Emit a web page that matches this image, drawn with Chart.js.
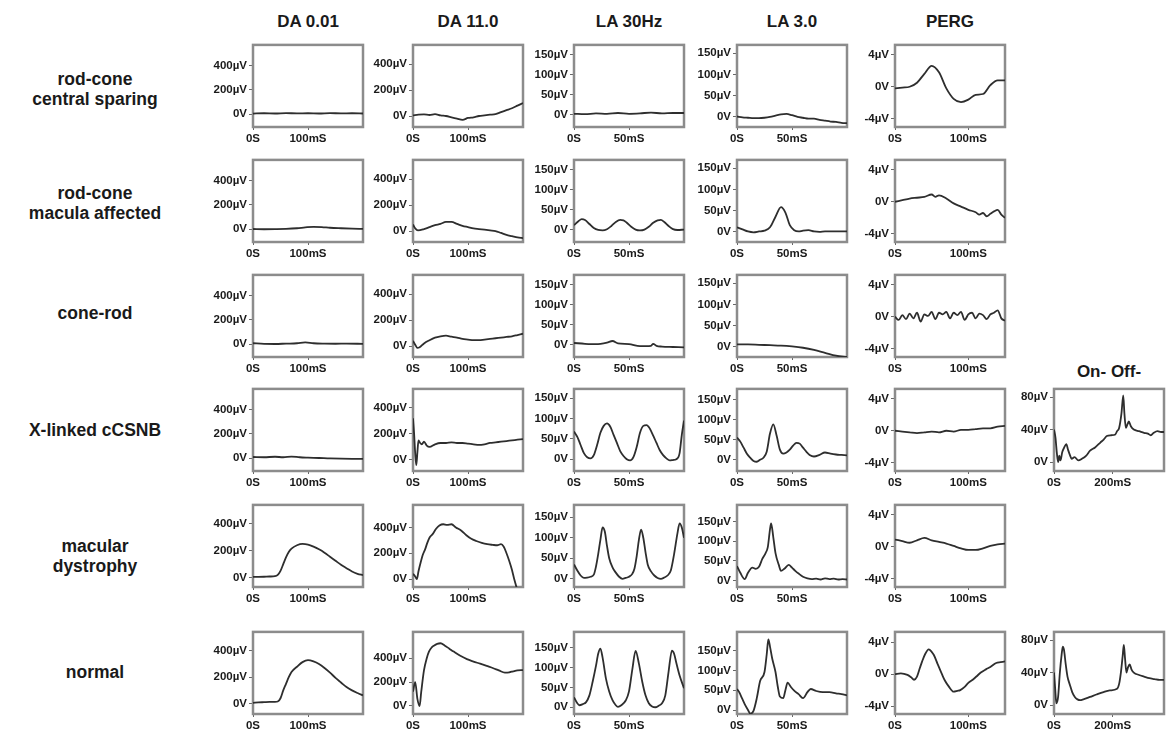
<!DOCTYPE html>
<html><head><meta charset="utf-8">
<script src="https://cdn.jsdelivr.net/npm/chart.js@4/dist/chart.umd.min.js"></script>
<style>
html,body{margin:0;padding:0;background:#fff;}
#wrap{position:relative;width:1166px;height:736px;overflow:hidden;font-family:"Liberation Sans",Arial,sans-serif;color:#1a1a1a;}
.lbl{position:absolute;font-weight:bold;text-align:center;white-space:nowrap;line-height:20px;}
canvas{position:absolute;}
</style></head>
<body><div id="wrap"></div>
<script>
// ---------- labels ----------
const columnTitles = ["DA 0.01", "DA 11.0", "LA 30Hz", "LA 3.0", "PERG", "On- Off-"];
const rowLabels = [["rod-cone","central sparing"],["rod-cone","macula affected"],["cone-rod"],["X-linked cCSNB"],["macular","dystrophy"],["normal"]];

// ---------- tick values / labels ----------
const daYTicks = [0, 200, 400];       const daYLabels = ["0V", "200µV", "400µV"];
const laYTicks = [0, 50, 100, 150];   const laYLabels = ["0V", "50µV", "100µV", "150µV"];
const pergYTicks = [-4, 0, 4];        const pergYLabels = ["-4µV", "0V", "4µV"];
const onoffYTicks = [0, 40, 80];      const onoffYLabels = ["0V", "40µV", "80µV"];
const daXTicks = [0, 100];    const daXLabels = ["0S", "100mS"];
const laXTicks = [0, 50];     const laXLabels = ["0S", "50mS"];
const pergXTicks = [0, 100];  const pergXLabels = ["0S", "100mS"];
const onoffXTicks = [0, 200]; const onoffXLabels = ["0S", "200mS"];

// ---------- traces: [time ms, value] ----------
// DA 0.01 (µV)
const da001_centralSparing = [[0,5],[20,8],[40,6],[60,9],[80,7],[100,8],[120,6],[140,9],[160,7],[180,8],[200,6]];
const da001_maculaAffected = [[0,2],[20,0],[40,1],[60,3],[80,8],[95,15],[110,20],[125,18],[140,12],[160,8],[180,5],[200,3]];
const da001_coneRod = [[0,8],[20,3],[40,2],[60,5],[80,8],[95,15],[110,8],[130,5],[150,4],[170,5],[200,3]];
const da001_xlCSNB = [[0,10],[20,8],[40,12],[55,8],[70,14],[85,8],[100,5],[120,2],[140,-2],[160,-4],[180,-5],[200,-5]];
const da001_macularDystrophy = [[0,5],[10,5],[20,6],[30,8],[40,10],[45,20],[50,50],[55,100],[60,150],[65,190],[70,215],[80,240],[90,250],[100,245],[110,230],[120,210],[130,185],[140,155],[150,125],[160,95],[170,70],[180,45],[190,28],[200,18]];
const da001_normal = [[0,5],[10,8],[20,10],[30,12],[40,12],[45,15],[50,40],[55,100],[60,150],[65,200],[70,240],[80,280],[90,315],[100,330],[110,320],[120,300],[130,270],[140,235],[150,195],[160,160],[170,125],[180,100],[190,80],[200,62]];
// DA 11.0 (µV)
const da11_centralSparing = [[0,5],[10,10],[20,12],[30,8],[40,15],[50,5],[60,0],[70,-10],[80,-20],[90,-30],[100,-15],[110,-10],[120,0],[130,5],[140,10],[150,15],[160,30],[170,45],[180,60],[190,80],[200,100]];
const da11_maculaAffected = [[0,50],[4,20],[9,5],[20,15],[30,30],[40,45],[50,55],[60,70],[70,70],[80,55],[90,40],[100,30],[110,20],[120,15],[130,10],[140,5],[150,0],[160,-15],[170,-30],[180,-40],[190,-50],[200,-55]];
const da11_coneRod = [[0,40],[4,10],[8,-15],[12,-10],[20,20],[30,45],[40,65],[50,75],[60,80],[70,72],[80,65],[90,55],[100,50],[110,45],[120,45],[130,50],[140,55],[150,60],[160,65],[170,70],[180,75],[190,85],[200,95]];
const da11_xlCSNB = [[0,320],[2,200],[4,50],[6,-40],[8,60],[10,150],[13,130],[16,120],[20,140],[25,110],[30,100],[40,120],[50,130],[60,130],[70,135],[80,130],[90,130],[100,125],[110,120],[120,115],[130,120],[140,130],[150,135],[160,140],[170,145],[180,150],[190,155],[200,160]];
const da11_macularDystrophy = [[0,40],[4,20],[7,0],[10,60],[14,130],[18,190],[22,230],[26,280],[30,320],[36,350],[42,390],[48,415],[55,425],[62,420],[70,425],[78,400],[88,375],[97,340],[106,312],[115,295],[125,280],[135,270],[145,265],[153,262],[160,270],[165,250],[170,200],[175,140],[180,70],[184,0],[190,-90]];
const da11_normal = [[0,120],[4,200],[8,60],[12,0],[15,120],[20,300],[25,400],[29,455],[34,490],[38,505],[44,520],[50,525],[58,505],[66,480],[74,455],[86,420],[98,392],[110,372],[122,354],[134,335],[146,316],[156,298],[167,280],[175,282],[182,290],[190,298],[200,300]];
// LA 30Hz (µV)
const la30_centralSparing = [[0,3],[10,2],[20,4],[30,3],[40,5],[50,3],[60,4],[70,6],[80,4],[90,5],[100,5]];
const la30_maculaAffected = [[0,12],[4,22],[7,27],[10,25],[14,15],[18,5],[22,0],[26,-1],[30,2],[34,10],[38,20],[42,25],[45,24],[48,18],[52,8],[56,1],[60,-1],[64,1],[68,8],[72,18],[76,24],[79,25],[82,20],[86,10],[90,2],[94,0],[100,1]];
const la30_coneRod = [[0,5],[10,3],[20,2],[30,6],[35,10],[40,4],[50,2],[60,-3],[70,-2],[72,3],[75,-2],[80,-4],[90,-5],[100,-6]];
const la30_xlCSNB = [[0,68],[3,55],[6,35],[9,15],[12,5],[15,2],[18,10],[21,35],[24,65],[27,82],[30,88],[33,80],[36,60],[39,40],[42,20],[45,8],[48,0],[51,-3],[54,5],[57,30],[60,65],[63,82],[66,84],[69,75],[72,58],[75,40],[78,22],[81,10],[84,2],[87,-3],[90,-2],[93,0],[96,15],[98,60],[100,95]];
const la30_macularDystrophy = [[0,35],[3,20],[6,8],[9,2],[12,3],[15,5],[18,10],[20,30],[22,60],[24,95],[26,125],[28,115],[30,80],[32,50],[35,28],[38,15],[41,5],[44,0],[47,2],[50,5],[53,12],[55,25],[57,55],[59,95],[61,120],[63,100],[65,65],[67,35],[70,18],[73,8],[76,2],[79,0],[82,3],[85,8],[88,20],[91,60],[94,110],[96,135],[98,125],[100,100]];
const la30_normal = [[0,25],[3,10],[5,5],[8,8],[11,13],[14,30],[17,65],[20,105],[22,135],[24,148],[26,125],[29,73],[32,40],[35,18],[38,5],[40,1],[43,5],[47,17],[50,40],[53,95],[56,142],[59,110],[62,65],[65,30],[68,10],[71,2],[74,0],[77,4],[80,10],[83,30],[86,90],[89,143],[91,135],[93,112],[96,80],[100,48]];
// LA 3.0 (µV)
const la3_centralSparing = [[0,0],[5,-2],[10,-3],[15,-4],[20,-4],[25,-3],[30,-1],[35,2],[40,5],[45,6],[50,3],[55,-1],[60,-3],[65,-5],[70,-5],[75,-8],[80,-10],[85,-12],[90,-13],[95,-15],[100,-16]];
const la3_maculaAffected = [[0,10],[5,5],[10,0],[15,-2],[20,0],[25,2],[30,10],[35,35],[40,58],[44,45],[48,15],[52,3],[56,0],[60,2],[65,3],[70,0],[75,-1],[80,0],[90,0],[100,0]];
const la3_coneRod = [[0,5],[10,5],[20,4],[30,3],[40,2],[50,0],[60,-3],[70,-8],[80,-15],[90,-22],[100,-25]];
const la3_xlCSNB = [[0,55],[3,45],[6,30],[9,15],[12,5],[15,-3],[18,-5],[21,0],[24,5],[27,20],[30,65],[33,88],[36,60],[39,25],[42,15],[45,18],[48,25],[51,35],[54,42],[57,40],[60,30],[63,20],[66,12],[70,8],[75,12],[80,18],[85,15],[90,13],[95,12],[100,11]];
const la3_macularDystrophy = [[0,37],[3,20],[7,4],[10,20],[14,33],[17,30],[20,35],[23,55],[26,70],[28,85],[30,130],[31,145],[33,110],[35,70],[38,40],[40,25],[43,30],[47,40],[50,33],[53,25],[56,18],[60,10],[64,6],[68,4],[72,5],[76,3],[80,6],[84,4],[88,5],[92,3],[96,4],[100,3]];
const la3_normal = [[0,53],[2,45],[4.5,30],[7,15],[10,0],[12,-9],[15,-2],[18,30],[21,73],[25,96],[27,140],[28.5,178],[30,160],[32,130],[35,96],[37,60],[39,34],[42,30],[44,50],[46,69],[49,58],[52,49],[56,40],[60,30],[64,45],[67,53],[72,48],[78,45],[84,45],[90,42],[95,40],[100,37]];
// PERG (µV)
const perg_centralSparing = [[0,-0.2],[10,-0.1],[20,0],[30,0.5],[40,1.6],[50,2.6],[60,1.8],[70,-0.2],[80,-1.5],[90,-1.9],[100,-1.6],[110,-1.0],[120,-0.9],[130,0.2],[140,0.8],[150,0.8]];
const perg_maculaAffected = [[0,0],[10,0.2],[20,0.4],[30,0.5],[40,0.6],[50,0.9],[55,0.6],[60,0.8],[70,0.4],[80,-0.2],[90,-0.6],[100,-1.0],[110,-1.3],[115,-1.6],[120,-1.4],[125,-1.8],[130,-1.5],[135,-1.2],[140,-1.0],[145,-1.6],[150,-2.0]];
const perg_coneRod = [[0,0],[5,-0.4],[10,0.2],[15,-0.3],[20,0.4],[25,-0.2],[30,0.5],[35,-0.6],[40,0.3],[45,0.1],[50,0.6],[55,-0.3],[60,0.5],[65,0.3],[70,0.6],[75,-0.2],[80,0.5],[85,0.2],[90,0.6],[95,-0.4],[100,0.3],[105,0.5],[110,-0.2],[115,0.4],[120,0.2],[125,-0.3],[130,0.3],[135,0.5],[140,0.8],[145,-0.2],[150,-0.5]];
const perg_xlCSNB = [[0,0],[10,-0.1],[20,-0.2],[30,-0.3],[40,-0.2],[50,-0.1],[60,-0.2],[70,0],[80,-0.1],[90,0.1],[100,0.1],[110,0.2],[120,0.3],[130,0.3],[140,0.5],[150,0.6]];
const perg_macularDystrophy = [[0,0.9],[10,0.7],[20,0.5],[30,0.8],[40,1.1],[50,0.8],[60,0.6],[70,0.4],[80,0.1],[90,-0.2],[100,-0.4],[110,-0.4],[120,-0.2],[130,0.1],[140,0.3],[150,0.4]];
const perg_normal = [[0,0],[8,0.1],[17,-0.1],[22,-0.4],[26,-0.7],[30,-0.3],[34,0.8],[37,1.6],[41,2.5],[46,3.1],[50,2.8],[53,2.4],[58,1.3],[64,0],[68,-0.8],[73,-1.5],[80,-2.2],[85,-2.1],[89,-2.0],[95,-1.6],[100,-1.1],[106,-0.7],[111,-0.3],[117,0.2],[124,0.6],[130,0.9],[138,1.4],[144,1.5],[150,1.6]];
// On- Off- (µV)
const onoff_xlCSNB = [[0,40],[5,30],[10,10],[14,0],[18,8],[22,2],[28,12],[35,18],[42,22],[48,15],[55,8],[60,4],[70,6],[83,2],[95,4],[110,8],[123,14],[140,18],[158,24],[170,28],[180,32],[195,33],[209,34],[215,38],[222,42],[230,60],[236,82],[240,60],[245,42],[250,46],[255,50],[262,44],[272,40],[290,38],[307,36],[320,35],[330,33],[340,36],[353,38],[365,37],[375,37]];
const onoff_normal = [[0,40],[4,20],[8,2],[14,10],[20,40],[26,62],[30,72],[34,68],[40,50],[46,35],[54,25],[62,16],[71,10],[80,7],[89,6],[100,7],[123,10],[145,13],[169,16],[190,18],[215,20],[222,26],[228,40],[234,60],[238,74],[242,58],[247,40],[252,46],[258,50],[264,44],[272,40],[290,37],[307,35],[325,33],[342,32],[360,31],[375,31]];

// ---------- layout (positions/sizes/styles) ----------
const BOX_W = 110, BOX_H = 87, YW = 54, XH = 24, PT = 4, PR = 4;
const colLeft = [253, 413, 574, 737, 895, 1054];
const rowTop = [40, 155, 270, 384, 500, 627];
const rowLabelY = [89, 203, 313, 430, 556, 672];
const titleY = [22, 22, 22, 22, 22, 372];
const LINE = '#2e2e2e', FRAME = '#8c8c8c', TXT = '#1a1a1a';
const tickFont = {family: '"Liberation Sans", Arial, sans-serif', size: 11.5, weight: 'bold'};

const colAxes = [
  {x:[0,200], xt:daXTicks, xl:daXLabels, yt:daYTicks, yl:daYLabels, yr:[[-105,570],[-105,570],[-105,570],[-105,570],[-70,540],[-80,545]]},
  {x:[0,200], xt:daXTicks, xl:daXLabels, yt:daYTicks, yl:daYLabels, yr:[[-85,550],[-85,550],[-85,550],[-85,545],[-62,575],[-67,620]]},
  {x:[0,100], xt:laXTicks, xl:laXLabels, yt:laYTicks, yl:laYLabels, yr:[[-30,175],[-30,175],[-30,175],[-29,173],[-20,180],[-17,190]]},
  {x:[0,100], xt:laXTicks, xl:laXLabels, yt:laYTicks, yl:laYLabels, yr:[[-25,170],[-25,170],[-25,170],[-28,176],[-16,192],[-10,197]]},
  {x:[0,150], xt:pergXTicks, xl:pergXLabels, yt:pergYTicks, yl:pergYLabels, yr:[[-5,5.2],[-5,5.2],[-5,5.2],[-5,5.2],[-5,5.2],[-5,5.3]]},
  {x:[0,375], xt:onoffXTicks, xl:onoffXLabels, yt:onoffYTicks, yl:onoffYLabels, yr:[null,null,null,[-11,90],null,[-11,90]]}
];
const grid = [
  [da001_centralSparing, da11_centralSparing, la30_centralSparing, la3_centralSparing, perg_centralSparing, null],
  [da001_maculaAffected, da11_maculaAffected, la30_maculaAffected, la3_maculaAffected, perg_maculaAffected, null],
  [da001_coneRod, da11_coneRod, la30_coneRod, la3_coneRod, perg_coneRod, null],
  [da001_xlCSNB, da11_xlCSNB, la30_xlCSNB, la3_xlCSNB, perg_xlCSNB, onoff_xlCSNB],
  [da001_macularDystrophy, da11_macularDystrophy, la30_macularDystrophy, la3_macularDystrophy, perg_macularDystrophy, null],
  [da001_normal, da11_normal, la30_normal, la3_normal, perg_normal, onoff_normal]
];

const wrap = document.getElementById('wrap');
function addLabel(text, cx, cy, size){
  const d = document.createElement('div');
  d.className = 'lbl'; d.textContent = text;
  d.style.fontSize = size + 'px';
  d.style.left = (cx - 150) + 'px'; d.style.width = '300px';
  d.style.top = (cy - 10) + 'px';
  wrap.appendChild(d);
}
columnTitles.forEach((t, i) => addLabel(t, colLeft[i] + BOX_W / 2, titleY[i], 17));
rowLabels.forEach((lines, r) => {
  lines.forEach((ln, k) => addLabel(ln, 95, rowLabelY[r] + (k - (lines.length - 1) / 2) * 20, 17.5));
});

const framePlugin = {
  id: 'frame',
  beforeDatasetsDraw(chart){
    const {ctx, chartArea: a} = chart;
    ctx.save(); ctx.strokeStyle = FRAME; ctx.lineWidth = 2.5;
    ctx.strokeRect(a.left, a.top, a.right - a.left, a.bottom - a.top);
    ctx.restore();
  }
};

grid.forEach((row, r) => row.forEach((trace, c) => {
  if (!trace) return;
  const ax = colAxes[c];
  const yr = ax.yr[r];
  const cv = document.createElement('canvas');
  const w = YW + BOX_W + PR, h = PT + BOX_H + XH;
  cv.width = w; cv.height = h;
  cv.style.left = (colLeft[c] - YW) + 'px';
  cv.style.top = (rowTop[r] - PT) + 'px';
  cv.style.width = w + 'px'; cv.style.height = h + 'px';
  wrap.appendChild(cv);
  new Chart(cv, {
    type: 'line',
    data: {datasets: [{data: trace.map(p => ({x: p[0], y: p[1]})), borderColor: LINE, borderWidth: 1.8,
      pointRadius: 0, cubicInterpolationMode: 'monotone', fill: false}]},
    options: {
      responsive: false, animation: false, events: [], devicePixelRatio: 1,
      layout: {padding: {top: PT, right: PR, left: 0, bottom: 0}},
      plugins: {legend: {display: false}, tooltip: {enabled: false}},
      scales: {
        x: {type: 'linear', min: ax.x[0], max: ax.x[1],
          afterBuildTicks: s => { s.ticks = ax.xt.map(v => ({value: v})); },
          afterFit: s => { s.height = XH; },
          ticks: {callback: v => ax.xl[ax.xt.indexOf(v)], font: tickFont, color: TXT, padding: 2, maxRotation: 0, autoSkip: false},
          grid: {drawOnChartArea: false, tickLength: 3, color: '#666', lineWidth: 1},
          border: {display: false}},
        y: {type: 'linear', min: yr[0], max: yr[1],
          afterBuildTicks: s => { s.ticks = ax.yt.map(v => ({value: v})); },
          afterFit: s => { s.width = YW; },
          ticks: {callback: v => ax.yl[ax.yt.indexOf(v)], font: tickFont, color: TXT, padding: 2, autoSkip: false},
          grid: {drawOnChartArea: false, tickLength: 4, color: '#666', lineWidth: 1},
          border: {display: false}}
      }
    },
    plugins: [framePlugin]
  });
}));
</script></body></html>
